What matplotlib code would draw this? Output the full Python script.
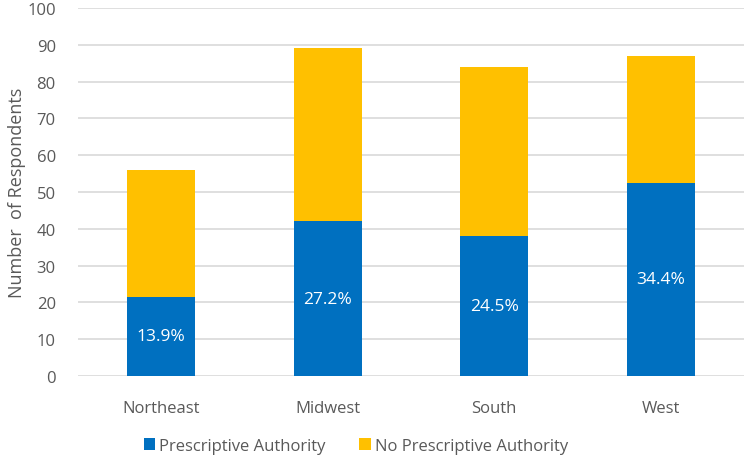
import matplotlib.pyplot as plt
import numpy as np

regions = ["Northeast", "Midwest", "South", "West"]
prescriptive = [21.5, 42, 38, 52.5]
no_prescriptive = [34.5, 47, 46, 34.5]
pct_labels = ["13.9%", "27.2%", "24.5%", "34.4%"]

blue = "#0070C0"
yellow = "#FFC000"
text_gray = "#595959"

plt.rcParams['font.family'] = ['Open Sans', 'DejaVu Sans']

fig = plt.figure(figsize=(7.45, 4.6), dpi=100)
ax = fig.add_axes([78 / 745, 1 - 377 / 460, 666 / 745, 368 / 460])

x = np.arange(len(regions))
w = 0.41
bars1 = ax.bar(x, prescriptive, w, color=blue, label="Prescriptive Authority", zorder=3)
ax.bar(x, no_prescriptive, w, bottom=prescriptive, color=yellow,
       label="No Prescriptive Authority", zorder=3)

for rect, lab in zip(bars1, pct_labels):
    ax.text(rect.get_x() + rect.get_width() / 2, rect.get_height() / 2, lab,
            ha="center", va="center", color="white", fontsize=12.5, zorder=4)

ax.set_xlim(-0.5, len(regions) - 0.5)
ax.set_ylim(0, 100)
ax.set_yticks(np.arange(0, 101, 10))
ax.set_xticks(x)
ax.set_xticklabels(regions)
ax.tick_params(axis="both", length=0, colors=text_gray, labelsize=12)
ax.tick_params(axis="x", pad=17)
ax.tick_params(axis="y", pad=16)
ax.grid(axis="y", color="#D9D9D9", linewidth=1.2, zorder=0)
for s in ["top", "right", "left", "bottom"]:
    ax.spines[s].set_visible(False)

ax.set_ylabel("Number  of Respondents", color=text_gray, fontsize=13, labelpad=1)

leg = fig.legend(loc="center", bbox_to_anchor=(356 / 745, 1 - 447 / 460), ncol=2,
                 frameon=False, fontsize=12, handlelength=0.7, handleheight=0.7,
                 handletextpad=0.25, columnspacing=2.0)
for t in leg.get_texts():
    t.set_color(text_gray)

fig.savefig("out.png", dpi=100)
